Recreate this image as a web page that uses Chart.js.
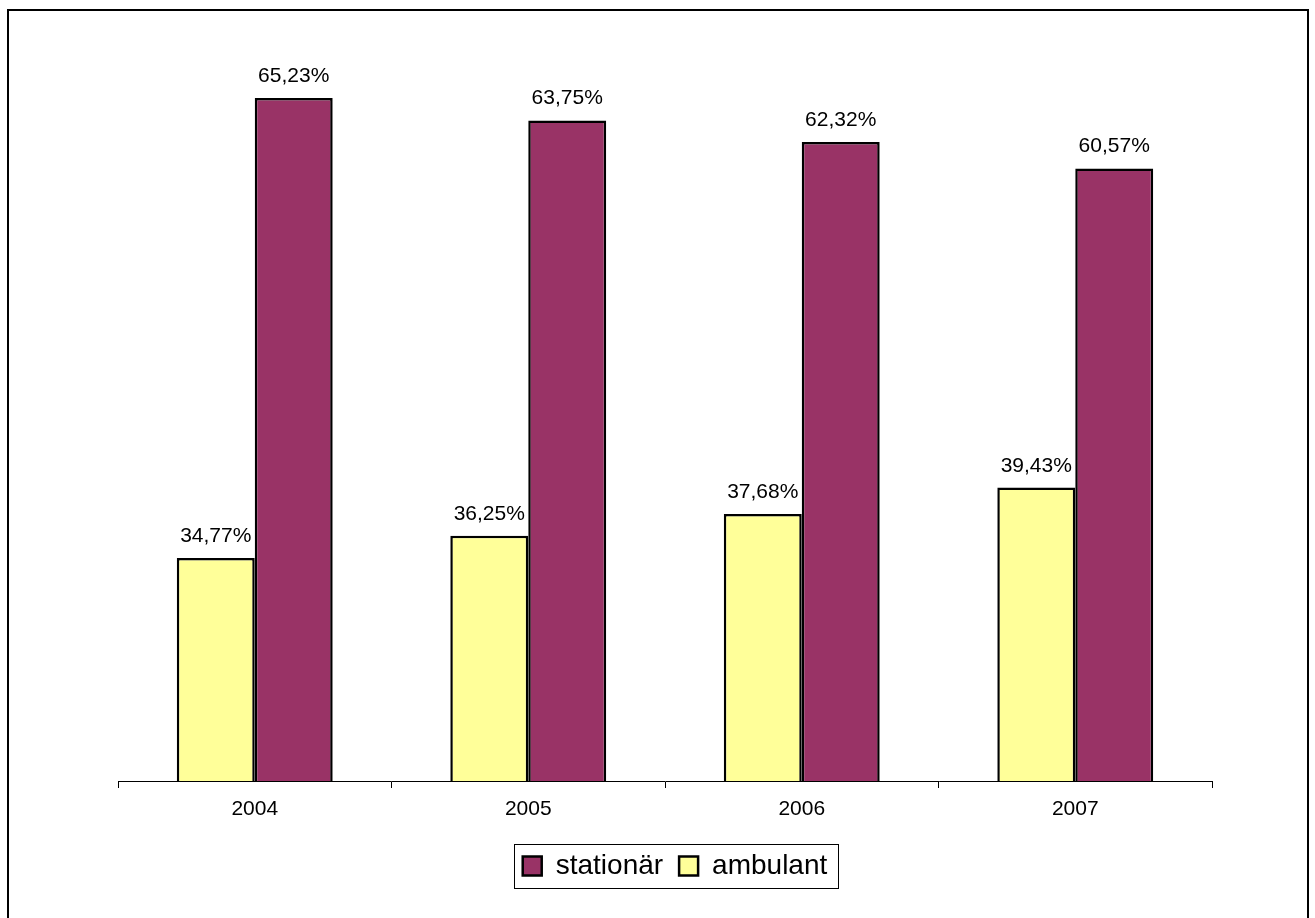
<!DOCTYPE html>
<html>
<head>
<meta charset="utf-8">
<script src="https://cdn.jsdelivr.net/npm/chart.js@4.4.0/dist/chart.umd.min.js"></script>
<style>
  html, body { margin: 0; padding: 0; background: #fff; overflow: hidden; }
  #wrap { position: relative; width: 1315px; height: 918px; }
  #frame { position: absolute; left: 7px; top: 9px; width: 1298px; height: 1000px;
    border: 2px solid #000; pointer-events: none; }
  canvas { position: absolute; left: 0; top: 0; }
</style>
</head>
<body>
<div id="wrap">
  <canvas id="chart" width="1315" height="918"></canvas>
  <div id="frame"></div>
</div>
<script>
  // values (percent)
  const years = ['2004', '2005', '2006', '2007'];
  const ambulant = [34.77, 36.25, 37.68, 39.43];
  const stationaer = [65.23, 63.75, 62.32, 60.57];

  const FONT = '"Liberation Sans", Arial, sans-serif';
  const fmt = (v) => v.toFixed(2).replace('.', ',') + '%';

  // value labels above each bar
  const barLabels = {
    id: 'barLabels',
    afterDatasetsDraw(chart) {
      const ctx = chart.ctx;
      ctx.save();
      ctx.font = '21px ' + FONT;
      ctx.fillStyle = '#000';
      ctx.textAlign = 'center';
      ctx.textBaseline = 'alphabetic';
      chart.data.datasets.forEach((ds, i) => {
        chart.getDatasetMeta(i).data.forEach((bar, j) => {
          ctx.fillText(fmt(ds.data[j]), bar.x, bar.y - 16);
        });
      });
      ctx.restore();
    },
  };

  // nudge the legend a little to the right, then frame it
  const legendFrame = {
    id: 'legendFrame',
    afterLayout(chart) {
      if (chart.legend) { chart.legend.left += 10; chart.legend.right += 10; }
    },
    afterDraw(chart) {
      const boxes = chart.legend && chart.legend.legendHitBoxes;
      if (!boxes || !boxes.length) return;
      const left = Math.min(...boxes.map((b) => b.left)) - 9;
      const right = Math.max(...boxes.map((b) => b.left + b.width)) + 10;
      const top = Math.min(...boxes.map((b) => b.top)) - 8;
      const bottom = Math.max(...boxes.map((b) => b.top + b.height)) + 8;
      const ctx = chart.ctx;
      ctx.save();
      ctx.strokeStyle = '#000';
      ctx.lineWidth = 1;
      ctx.strokeRect(Math.round(left) + 0.5, Math.round(top) + 0.5, Math.round(right - left), Math.round(bottom - top));
      ctx.restore();
    },
  };

  new Chart(document.getElementById('chart'), {
    type: 'bar',
    data: {
      labels: years,
      datasets: [
        { label: 'ambulant', data: ambulant, backgroundColor: '#FFFF99', borderColor: '#000', borderWidth: 2.5, borderSkipped: false },
        { label: 'stationär', data: stationaer, backgroundColor: '#993366', borderColor: '#000', borderWidth: 2.5, borderSkipped: false },
      ],
    },
    options: {
      responsive: false,
      animation: false,
      layout: { padding: { left: 118, right: 103, top: 26, bottom: 28 } },
      datasets: { bar: { categoryPercentage: 0.57, barPercentage: 1.0 } },
      scales: {
        x: {
          grid: { offset: true, drawOnChartArea: false, drawTicks: true, tickLength: 7, color: '#000' },
          border: { display: true, color: '#000', width: 1 },
          ticks: { color: '#000', font: { family: FONT, size: 21 }, padding: 9 },
          afterFit(scale) { scale.height = 55; },
        },
        y: { display: false, min: 20, max: 70 },
      },
      plugins: {
        legend: {
          position: 'bottom',
          reverse: true,
          labels: {
            color: '#000',
            font: { family: FONT, size: 28 },
            boxWidth: 19,
            boxHeight: 19,
            padding: 16,
          },
        },
        tooltip: { enabled: false },
      },
    },
    plugins: [barLabels, legendFrame],
  });
</script>
</body>
</html>
